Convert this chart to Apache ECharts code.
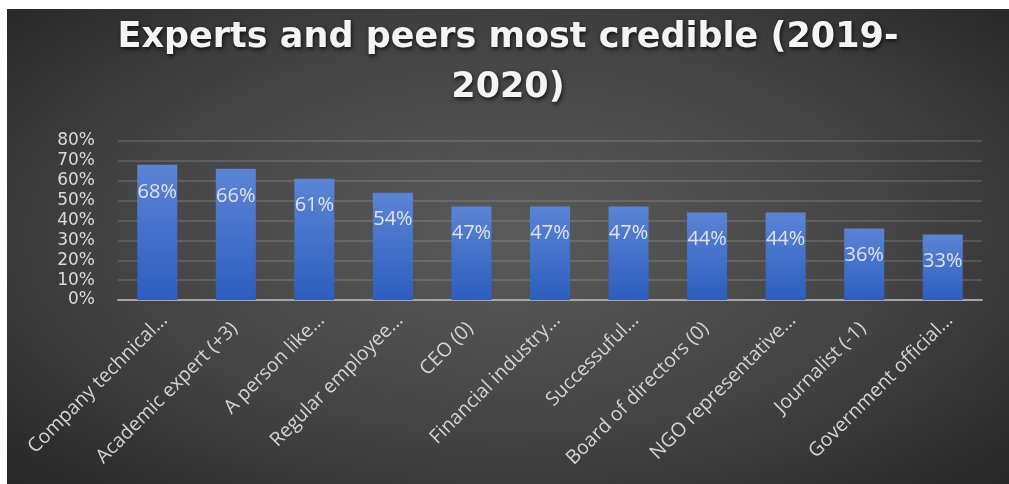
<!DOCTYPE html>
<html>
<head>
<meta charset="utf-8">
<script src="https://cdn.jsdelivr.net/npm/echarts@6/dist/echarts.min.js"></script>
<style>
  html, body { margin: 0; padding: 0; background: #ffffff; }
  #panel {
    position: absolute; left: 7px; top: 9px; width: 1002px; height: 475px;
    background: radial-gradient(ellipse 70% 75% at 50% 48%, #5a5a5a 0%, #444444 55%, #262626 100%);
  }
  #chart { width: 1002px; height: 475px; }
</style>
</head>
<body>
<div id="panel"><div id="chart"></div></div>
<script>
// Category labels as shown on the axis (long names truncated)
const categories = [
  'Company technical...',
  'Academic expert (+3)',
  'A person like...',
  'Regular employee...',
  'CEO (0)',
  'Financial industry...',
  'Successuful...',
  'Board of directors (0)',
  'NGO representative...',
  'Journalist (-1)',
  'Government official...'
];
// Share rating each spokesperson as credible, in percent
const credible = [68, 66, 61, 54, 47, 47, 47, 44, 44, 36, 33];
const yTicks = { min: 0, max: 80, step: 10 };

const chart = echarts.init(document.getElementById('chart'), null, { renderer: 'canvas' });

chart.setOption({
  backgroundColor: 'transparent',
  animation: false,
  title: {
    text: 'Experts and peers most credible (2019-\n2020)',
    left: 'center',
    top: 4,
    padding: 0,
    textStyle: {
      fontFamily: 'DejaVu Sans',
      fontWeight: 'bold',
      fontSize: 35,
      lineHeight: 50,
      color: '#f4f4f4',
      textShadowColor: 'rgba(0,0,0,0.75)',
      textShadowBlur: 4,
      textShadowOffsetX: 1,
      textShadowOffsetY: 2
    }
  },
  grid: { left: 111, right: 27, top: 132, bottom: 184, containLabel: false },
  xAxis: {
    type: 'category',
    data: categories,
    axisLine: { show: true, lineStyle: { color: '#a6a6a6', width: 2 } },
    axisTick: { show: false },
    axisLabel: {
      interval: 0,
      rotate: 45,
      margin: 10,
      verticalAlign: 'top',
      lineHeight: 20,
      color: '#d4d4d4',
      fontFamily: 'Open Sans',
      fontSize: 19.5,
      // untruncated names sit a little further back along the slant
      formatter: (name) => name.endsWith('...') ? name : '{full|' + name + '}',
      rich: {
        full: {
          color: '#d4d4d4',
          fontFamily: 'Open Sans',
          fontSize: 19.5,
          lineHeight: 20,
          padding: [0, 12, 0, 0]
        }
      }
    }
  },
  yAxis: {
    type: 'value',
    min: yTicks.min,
    max: yTicks.max,
    interval: yTicks.step,
    axisLine: { show: false },
    axisTick: { show: false },
    splitLine: { lineStyle: { color: 'rgba(255,255,255,0.13)', width: 2 } },
    axisLabel: {
      formatter: '{value}%',
      color: '#dadada',
      fontFamily: 'DejaVu Sans',
      fontSize: 17,
      margin: 23
    }
  },
  series: [{
    type: 'bar',
    data: credible,
    barWidth: '51%',
    itemStyle: {
      color: new echarts.graphic.LinearGradient(0, 0, 0, 1, [
        { offset: 0, color: '#5b84d4' },
        { offset: 1, color: '#2d5ebf' }
      ])
    },
    label: {
      show: true,
      position: 'insideTop',
      distance: 17,
      formatter: '{c}%',
      color: '#e2e2e2',
      fontFamily: 'Open Sans',
      fontSize: 20
    }
  }]
});
</script>
</body>
</html>
